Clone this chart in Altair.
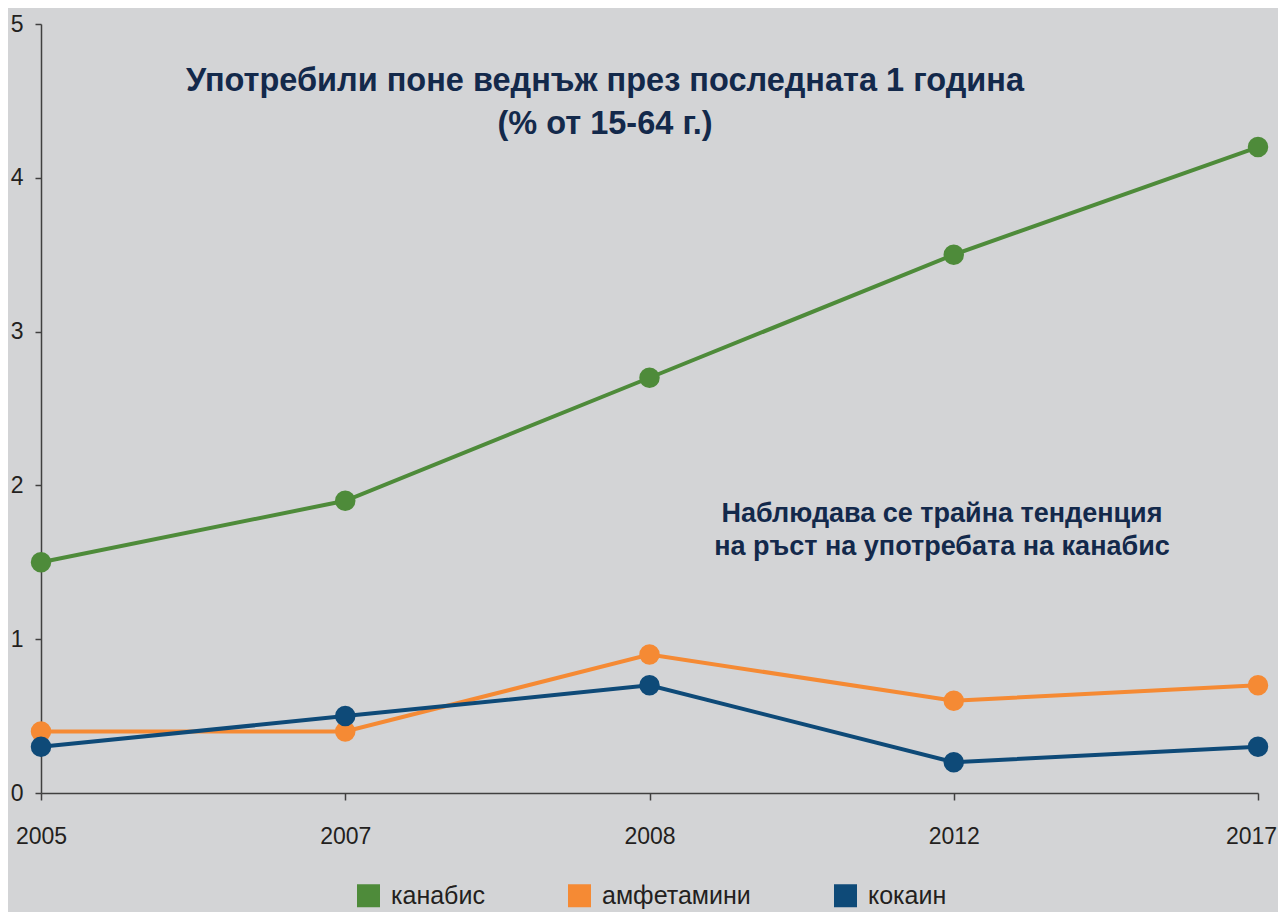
import altair as alt
import pandas as pd

years = ["2005", "2007", "2008", "2012", "2017"]
cannabis = [1.5, 1.9, 2.7, 3.5, 4.2]
amphet = [0.4, 0.4, 0.9, 0.6, 0.7]
cocaine = [0.3, 0.5, 0.7, 0.2, 0.3]
series = ["канабис", "амфетамини", "кокаин"]
colors = ["#4E8B3A", "#F58A34", "#0E4A78"]
title_lines = ["Употребили поне веднъж през последната 1 година", "(% от 15-64 г.)"]
note_lines = ["Наблюдава се трайна тенденция", "на ръст на употребата на канабис"]

rows = []
for s, vals in zip(series, [cannabis, amphet, cocaine]):
    for yr, v in zip(years, vals):
        rows.append({"year": yr, "series": s, "value": v})
df = pd.DataFrame(rows)

FONT = "Liberation Sans"
AXC = "#404040"
LABC = "#231F20"
NAVY = "#13294B"

x = alt.X(
    "year:O", sort=years,
    scale=alt.Scale(type="point", padding=0),
    axis=alt.Axis(title=None, labelAngle=0, tickSize=7, labelPadding=25,
                  labelFontSize=23, labelFont=FONT, labelColor=LABC,
                  labelOffset={"condition": {"test": "datum.value == '2017'", "value": -7}, "value": 0},
                  domainColor=AXC, tickColor=AXC, domainWidth=1.5, tickWidth=1.5,
                  grid=False),
)
y = alt.Y(
    "value:Q",
    scale=alt.Scale(domain=[0, 5], nice=False),
    axis=alt.Axis(title=None, values=[0, 1, 2, 3, 4, 5], tickSize=6, labelPadding=12,
                  labelFontSize=23, labelFont=FONT, labelColor=LABC,
                  domainColor=AXC, tickColor=AXC, domainWidth=1.5, tickWidth=1.5,
                  grid=False),
)
color_scale = alt.Scale(domain=series, range=colors)

lines = alt.Chart(df).mark_line(strokeWidth=4).encode(
    x=x, y=y,
    color=alt.Color("series:N", scale=color_scale, legend=None),
)
points = alt.Chart(df).mark_point(filled=True, opacity=1, size=420).encode(
    x=x, y=y,
    color=alt.Color(
        "series:N", scale=color_scale,
        legend=alt.Legend(
            title=None, orient="none", legendX=315, legendY=859, direction="horizontal",
            symbolType="square", symbolSize=529, symbolStrokeWidth=0, symbolOpacity=1,
            labelFontSize=25, labelFont=FONT, labelColor=LABC,
            labelOffset=10, columnPadding=82, padding=0,
        ),
    ),
)

one = pd.DataFrame({"k": [0]})
title_txt = alt.Chart(one).mark_text(
    text=title_lines, font=FONT, fontSize=32.5, fontWeight="bold", color=NAVY,
    align="center", baseline="alphabetic", lineHeight=43,
).encode(x=alt.value(564), y=alt.value(67))
note_txt = alt.Chart(one).mark_text(
    text=note_lines, font=FONT, fontSize=27, fontWeight="bold", color=NAVY,
    align="center", baseline="alphabetic", lineHeight=33,
).encode(x=alt.value(901), y=alt.value(498))

chart = alt.layer(lines, points, title_txt, note_txt).resolve_legend(
    color="independent"
).properties(
    width=1217, height=769,
    padding={"left": 33, "top": 16, "right": 20, "bottom": 119},
    autosize=alt.AutoSizeParams(type="none"),
    background="#D3D4D6",
).configure_view(stroke=None)

chart.save("out.html", embed_options={"renderer": "svg", "actions": False})
